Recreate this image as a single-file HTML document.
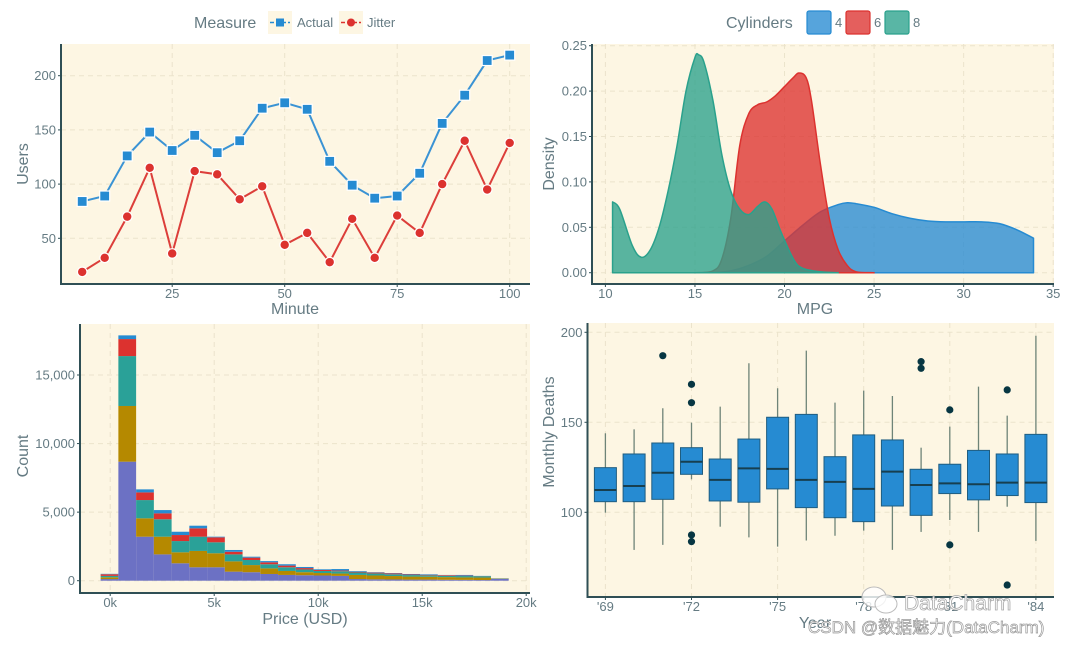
<!DOCTYPE html>
<html><head><meta charset="utf-8">
<style>
html,body{margin:0;padding:0;background:#fff;}
svg{display:block;font-family:"Liberation Sans","Noto Sans CJK SC",sans-serif;}
.tick{fill:#657b83;font-size:13px;}
.ttl{fill:#657b83;font-size:16px;}
.leg{fill:#657b83;font-size:13px;}
</style></head>
<body>
<svg id="chart" width="1080" height="645" viewBox="0 0 1080 645" xmlns="http://www.w3.org/2000/svg"></svg>
<script>
// ---------- Panel 1 data ----------
const minutes = [5,10,15,20,25,30,35,40,45,50,55,60,65,70,75,80,85,90,95,100];
const actualUsers = [84,89,126,148,131,145,129,140,170,175,169,121,99,87,89,110,156,182,214,219];
const jitterUsers = [19,32,70,115,36,112,109,86,98,44,55,28,68,32,71,55,100,140,95,138];
const p1XTicks = [25,50,75,100];
const p1YTicks = [50,100,150,200];
// ---------- Panel 2 data ----------
const dens4X = [16,17,18,19,20,21,22,23,23.5,24,25,26,27,28,29,30,31,32,33,33.9];
const dens4Y = [0,0.002,0.008,0.018,0.035,0.052,0.067,0.075,0.077,0.076,0.072,0.065,0.06,0.057,0.056,0.056,0.056,0.054,0.047,0.038];
const dens6X = [15,16,16.5,17,17.5,18,18.5,19,19.5,20,20.5,20.8,21.2,21.5,22,22.5,23,23.5,24,25];
const dens6Y = [0,0.002,0.015,0.06,0.14,0.175,0.185,0.188,0.195,0.205,0.215,0.22,0.215,0.19,0.12,0.06,0.025,0.008,0.001,0];
const dens8X = [10.4,10.8,11.5,12,12.5,13,13.5,14,14.5,15,15.2,15.5,16,16.5,17,17.5,18,18.5,18.9,19.3,19.8,20.5,21,22,23];
const dens8Y = [0.078,0.07,0.03,0.017,0.025,0.05,0.09,0.14,0.2,0.237,0.24,0.232,0.19,0.13,0.09,0.07,0.064,0.073,0.078,0.07,0.045,0.015,0.005,0.001,0];
const p2XTicks = [10,15,20,25,30,35];
const p2YTicks = [0,0.05,0.10,0.15,0.20,0.25];
const p2YLabels = ["0.00","0.05","0.10","0.15","0.20","0.25"];
// ---------- Panel 3 data ----------
const binStart = -460;
const binWidth = 853;
const histViolet = [120,8680,3210,1920,1270,980,980,660,620,490,420,400,380,350,120,100,90,80,80,70,60,50,130];
const histYellow = [130,4060,1340,1290,800,1190,1020,750,520,410,290,220,180,170,300,280,250,220,210,190,180,180,20];
const histCyan   = [100,3640,1330,1270,820,1040,800,510,370,300,270,200,150,170,180,150,130,110,100,90,100,100,20];
const histRed    = [120,1240,560,430,440,610,360,190,170,140,120,100,70,50,50,60,60,40,40,50,30,10,5];
const histBlue   = [30,270,220,240,240,190,50,130,70,90,100,80,50,110,50,30,30,40,40,20,50,10,5];
const p3XTicks = [0,5000,10000,15000,20000];
const p3XLabels = ["0k","5k","10k","15k","20k"];
const p3YTicks = [0,5000,10000,15000];
const p3YLabels = ["0","5,000","10,000","15,000"];
// ---------- Panel 4 data ----------
const years = [1969,1970,1971,1972,1973,1974,1975,1976,1977,1978,1979,1980,1981,1982,1983,1984];
const boxLow = [99.8,79.1,81.9,118.3,92,86.1,80.9,84.3,87,89.8,79.1,89.1,95.7,89.1,103.1,84.1];
const boxQ1  = [105.9,105.9,107.2,121.1,106.3,105.6,113,102.6,97,94.8,103.5,98.3,110.4,106.9,109.3,105.4];
const boxMed = [112.4,114.6,122,128.1,118,124.4,124.1,118,116.9,113,122.6,115.2,116.1,115.6,116.5,116.5];
const boxQ3  = [124.8,132.4,138.5,135.9,129.6,140.7,152.8,154.4,130.9,143,140.2,123.9,126.7,134.4,132.4,143.3];
const boxHigh= [143.9,146.1,157.8,149.8,158.7,182.8,168.9,189.8,160.9,167.6,164.6,135.9,147.6,169.8,153.7,198.1];
const outlierYear = [1971,1972,1972,1972,1972,1980,1980,1981,1981,1983,1983];
const outlierVal  = [187,171.1,160.9,87.4,83.7,183.7,180,156.9,81.9,168,59.6];
const p4XTicks = [1969,1972,1975,1978,1981,1984];
const p4XLabels = ["'69","'72","'75","'78","'81","'84"];
const p4YTicks = [100,150,200];

const NS='http://www.w3.org/2000/svg';
const svg=document.getElementById('chart');
function mk(tag,attrs,parent){const e=document.createElementNS(NS,tag);for(const k in attrs)e.setAttribute(k,attrs[k]);(parent||svg).appendChild(e);return e;}
function lin(d0,d1,r0,r1){return v=>r0+(v-d0)/(d1-d0)*(r1-r0);}
const BG='#fdf6e3',GRID='#ebe3cc',AX='#2f4f55';

function smooth(pts){
  let d='';
  for(let i=0;i<pts.length-1;i++){
    const p0=pts[Math.max(0,i-1)],p1=pts[i],p2=pts[i+1],p3=pts[Math.min(pts.length-1,i+2)];
    const c1=[p1[0]+(p2[0]-p0[0])/6,p1[1]+(p2[1]-p0[1])/6];
    const c2=[p2[0]-(p3[0]-p1[0])/6,p2[1]-(p3[1]-p1[1])/6];
    d+=` C${c1[0]},${c1[1]} ${c2[0]},${c2[1]} ${p2[0]},${p2[1]}`;
  }
  return d;
}

function frame(g,L,T,R,B,xs,ys,xt,yt,xl,yl,xTitle,yTitle,xtx,ytx){
  const bg=mk('rect',{x:L,y:T,width:R-L,height:B-T,fill:BG},g);
  
  
  xt.forEach((v,i)=>{const X=xs(v);
    const gl=mk('line',{x1:X,x2:X,y1:T,y2:B,stroke:GRID,'stroke-width':1,'stroke-dasharray':'5,4'},g);
    
    const t=mk('text',{x:X,y:B+14,'text-anchor':'middle',class:'tick'},g);t.textContent=xl[i];
    
    mk('line',{x1:X,x2:X,y1:B,y2:B+3,stroke:AX,'stroke-width':1},g);
  });
  yt.forEach((v,i)=>{const Y=ys(v);
    const gl=mk('line',{x1:L,x2:R,y1:Y,y2:Y,stroke:GRID,'stroke-width':1,'stroke-dasharray':'5,4'},g);
    
    const t=mk('text',{x:L-5,y:Y+4.5,'text-anchor':'end',class:'tick'},g);t.textContent=yl[i];
    
    mk('line',{x1:L-3,x2:L,y1:Y,y2:Y,stroke:AX,'stroke-width':1},g);
  });
  const ax=mk('path',{d:`M${L},${T} V${B} H${R}`,fill:'none',stroke:AX,'stroke-width':2},g);
  
  const xtt=mk('text',{x:xtx[0],y:xtx[1],'text-anchor':'middle',class:'ttl'},g);xtt.textContent=xTitle;
  
  const ytt=mk('text',{x:0,y:0,'text-anchor':'middle',class:'ttl',transform:`translate(${ytx[0]},${ytx[1]}) rotate(-90)`},g);ytt.textContent=yTitle;
  
}

// ===== Panel 1 =====
(function(){
  const g=mk('g',{});
  const xs=lin(25,100,172.2,509.7), ys=lin(50,200,238.3,75.7);
  frame(g,61,44,530,284,xs,ys,p1XTicks,p1YTicks,p1XTicks.map(String),p1YTicks.map(String),'Minute','Users',[295,314],[28,164]);
  const pa=minutes.map((m,i)=>`${xs(m)},${ys(actualUsers[i])}`).join(' ');
  const pj=minutes.map((m,i)=>`${xs(m)},${ys(jitterUsers[i])}`).join(' ');
  const la=mk('polyline',{points:pa,fill:'none',stroke:'#3a93d4','stroke-width':2},g);
  
  const lj=mk('polyline',{points:pj,fill:'none',stroke:'#dc3e3a','stroke-width':2},g);
  
  minutes.forEach((m,i)=>{
    const s=mk('rect',{x:xs(m)-5,y:ys(actualUsers[i])-5,width:10,height:10,fill:'#268bd2',stroke:'#fff','stroke-width':1.2},g);
    
    const c=mk('circle',{cx:xs(m),cy:ys(jitterUsers[i]),r:4.8,fill:'#dc322f',stroke:'#fff','stroke-width':1.2},g);
    
  });
  const lt=mk('text',{x:194,y:28,class:'ttl'},g);lt.textContent='Measure';
  
  [[268,'Actual','#268bd2',297,'rect'],[339,'Jitter','#dc322f',367,'circ']].forEach(a=>{
    const kg=mk('g',{},g);
    mk('rect',{x:a[0],y:11,width:24,height:23,fill:BG},kg);
    mk('line',{x1:a[0]+2,x2:a[0]+22,y1:22.5,y2:22.5,stroke:a[2],'stroke-width':1.5,'stroke-dasharray':'4,2'},kg);
    if(a[4]==='rect')mk('rect',{x:a[0]+8,y:18.5,width:8,height:8,fill:a[2]},kg);
    else mk('circle',{cx:a[0]+12,cy:22.5,r:4,fill:a[2]},kg);
    const t=mk('text',{x:a[3],y:27,class:'leg'},kg);t.textContent=a[1];
  });
})();

// ===== Panel 2 =====
(function(){
  const g=mk('g',{});
  const xs=lin(10,35,605.4,1053.2), ys=lin(0,0.25,272.7,45.7);
  frame(g,592,44,1054,284,xs,ys,p2XTicks,p2YTicks,p2XTicks.map(String),p2YLabels,'MPG','Density',[815,314],[554,164]);
  function area(X,Y,col,name){
    const pts=X.map((x,i)=>[xs(x),ys(Y[i])]);
    let d=`M${xs(X[0])},${ys(0)} L${pts[0][0]},${pts[0][1]}`+smooth(pts)+` L${xs(X[X.length-1])},${ys(0)} Z`;
    const p=mk('path',{d:d,fill:col,'fill-opacity':0.78,stroke:col,'stroke-width':1.5,'stroke-linejoin':'round'},g);
    
  }
  area(dens4X,dens4Y,'#268bd2','density-4-cyl');
  area(dens6X,dens6Y,'#dc322f','density-6-cyl');
  area(dens8X,dens8Y,'#2aa18c','density-8-cyl');
  const lt=mk('text',{x:726,y:28,class:'ttl'},g);lt.textContent='Cylinders';
  
  [[807,'4','#268bd2'],[846,'6','#dc322f'],[885,'8','#2aa18c']].forEach(a=>{
    const kg=mk('g',{},g);
    mk('rect',{x:a[0],y:11,width:24,height:23,fill:a[2],'fill-opacity':0.78,stroke:a[2],'stroke-width':1.2,rx:2},kg);
    const t=mk('text',{x:a[0]+28,y:27,class:'leg'},kg);t.textContent=a[1];
  });
})();

// ===== Panel 3 =====
(function(){
  const g=mk('g',{});
  const xs=lin(0,5000,110.2,214.2), ys=lin(0,15000,580.7,375);
  frame(g,80,324,530,593,xs,ys,p3XTicks,p3YTicks,p3XLabels,p3YLabels,'Price (USD)','Count',[305,624],[28,456]);
  const layers=[[histViolet,'#6c71c4','violet'],[histYellow,'#b58900','yellow'],[histCyan,'#2aa198','cyan'],[histRed,'#dc322f','red'],[histBlue,'#268bd2','blue']];
  histViolet.forEach((_,i)=>{
    let base=0;const x0=xs(binStart+i*binWidth), x1=xs(binStart+(i+1)*binWidth);
    layers.forEach(L=>{const v=L[0][i];
      const r=mk('rect',{x:x0,y:ys(base+v),width:x1-x0,height:ys(base)-ys(base+v),fill:L[1]},g);
      
      base+=v;});
  });
})();

// ===== Panel 4 =====
(function(){
  const g=mk('g',{});
  const xs=lin(1969,1972,605.4,691.5), ys=lin(100,150,512.3,422.3);
  frame(g,587.5,323,1054,597,xs,ys,p4XTicks,p4YTicks,p4XLabels,p4YTicks.map(String),'Year','Monthly Deaths',[815,628],[554,432]);
  years.forEach((yr,i)=>{
    const X=xs(yr),w=22;
    const wl=mk('line',{x1:X,x2:X,y1:ys(boxHigh[i]),y2:ys(boxLow[i]),stroke:'#6e8478','stroke-width':1.3},g);
    
    const b=mk('rect',{x:X-w/2,y:ys(boxQ3[i]),width:w,height:ys(boxQ1[i])-ys(boxQ3[i]),fill:'#268bd2',stroke:'#1f5d80','stroke-width':1},g);
    
    const m=mk('line',{x1:X-w/2,x2:X+w/2,y1:ys(boxMed[i]),y2:ys(boxMed[i]),stroke:'#173f4f','stroke-width':2},g);
    
  });
  outlierYear.forEach((yr,i)=>{
    const c=mk('circle',{cx:xs(yr),cy:ys(outlierVal[i]),r:3.6,fill:'#073642'},g);
    
  });
})();

// watermark
(function(){
  const g=mk('g',{});
  mk('ellipse',{cx:874,cy:597,rx:12,ry:10,fill:'#fff','fill-opacity':0.8,stroke:'#bbb','stroke-width':1},g);
  mk('ellipse',{cx:886,cy:604,rx:11,ry:9,fill:'#fff','fill-opacity':0.8,stroke:'#bbb','stroke-width':1},g);
  const t1=mk('text',{x:904,y:610,fill:'#fff',stroke:'#aaa','stroke-width':0.8,'font-size':21},g);t1.textContent='DataCharm';
  const t2=mk('text',{x:808,y:633,fill:'#fff',stroke:'#999','stroke-width':0.7,'font-size':17},g);t2.textContent='CSDN @数据魅力(DataCharm)';
})();
</script>
</body></html>
